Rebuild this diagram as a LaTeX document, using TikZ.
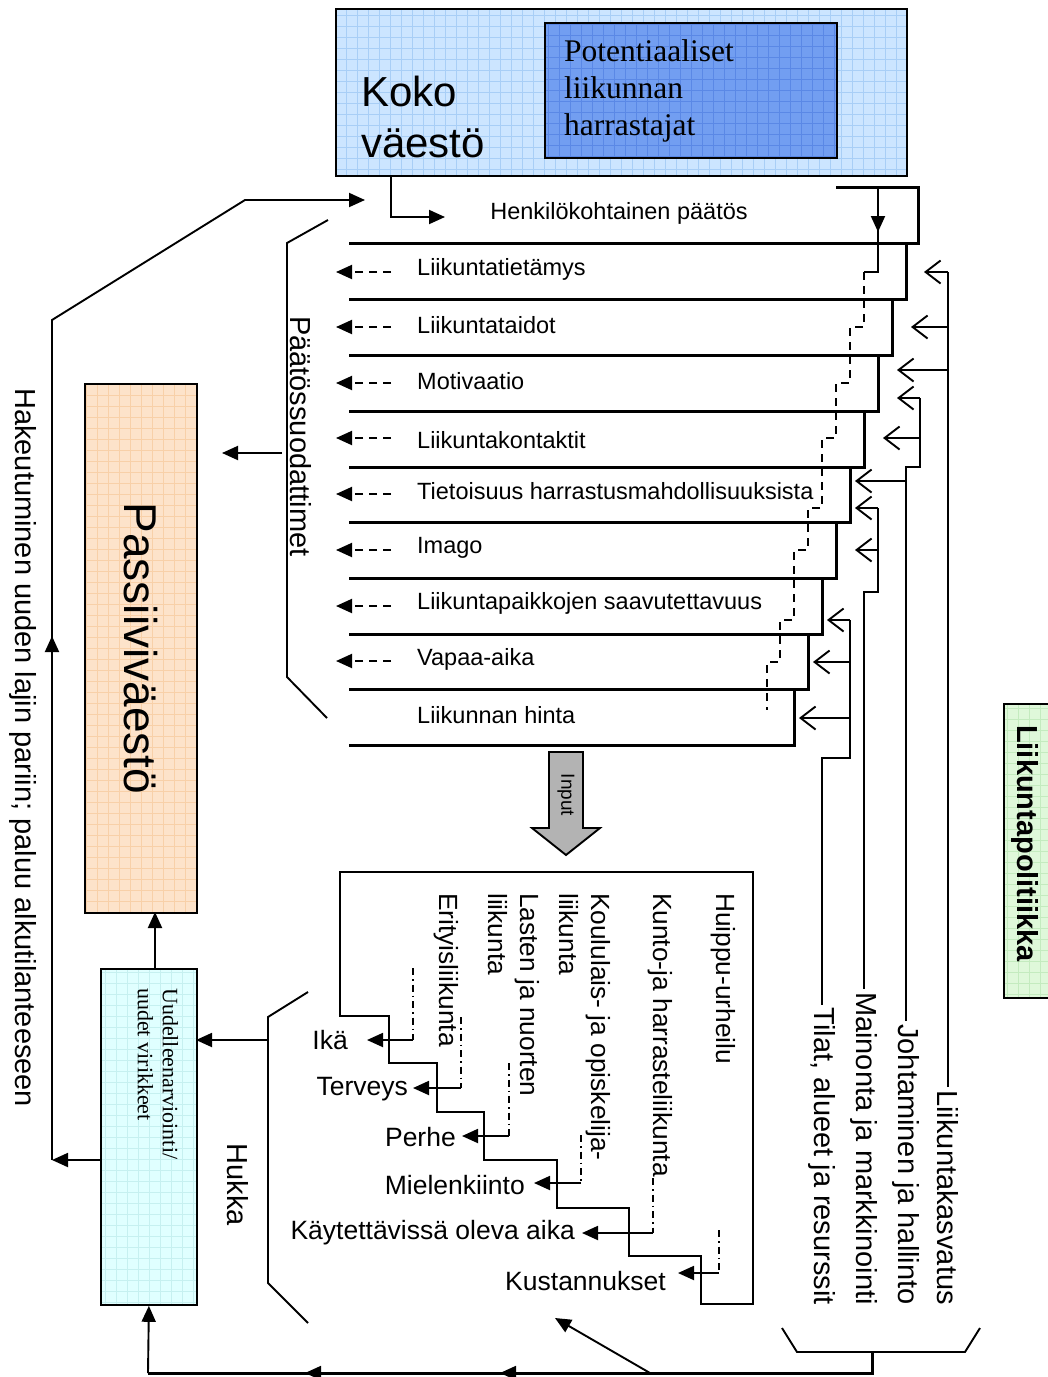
\documentclass[tikz,border=0pt]{standalone}
\usepackage{fontspec}
\setmainfont{Liberation Sans}
\newfontfamily\timesfont{Liberation Serif}
\usetikzlibrary{arrows.meta}
\definecolor{kokofill}{HTML}{CCE5FF}
\definecolor{kokogrid}{HTML}{A8CEF6}
\definecolor{potfill}{HTML}{729EF1}
\definecolor{potgrid}{HTML}{5A88E6}
\definecolor{pasfill}{HTML}{FDE3CA}
\definecolor{pasgrid}{HTML}{F8D0A8}
\definecolor{uudfill}{HTML}{E0FFFF}
\definecolor{uudgrid}{HTML}{C6F0F0}
\definecolor{polfill}{HTML}{DFF8DA}
\definecolor{polgrid}{HTML}{C4EBBF}
\definecolor{inputgray}{HTML}{B3B3B3}
\begin{document}
\begin{tikzpicture}[x=1pt,y=-1pt,
  gbox/.style 2 args={draw=black, line width=1.8pt, fill=#1, inner sep=0pt,
    path picture={\draw[#2, line width=0.6pt, step=11pt] (path picture bounding box.south west) grid (path picture bounding box.north east);}},
  rowline/.style={line width=3pt},
  ln/.style={line width=1.9pt},
  farr/.style={-{Triangle[length=16pt,width=14pt]}},
  oarr/.style={-{Straight Barb[length=15pt,width=23pt]}},
  dsh/.style={dash pattern=on 8pt off 6pt},
  ddot/.style={line width=1.5pt, dash pattern=on 7pt off 4pt on 1.5pt off 4pt},
  rowlbl/.style={anchor=west, inner sep=0pt, font=\fontsize{23.5}{28}\selectfont},
  botlbl/.style={anchor=east, inner sep=0pt, font=\fontsize{26.5}{31}\selectfont},
  cat/.style={anchor=west, rotate=-90, inner sep=0pt, align=left, font=\fontsize{26.3}{32}\selectfont},
  vtxt/.style={rotate=-90, inner sep=0pt, font=\fontsize{29}{34}\selectfont},
  pol/.style={anchor=east, rotate=-90, inner sep=3pt, font=\fontsize{29}{34}\selectfont},
]
\useasboundingbox (0,0) rectangle (1048,1377);

% ---- top boxes
\node[gbox={kokofill}{kokogrid}, minimum width=571pt, minimum height=167pt, anchor=north west] (koko) at (335,8) {};
\node[gbox={potfill}{potgrid}, minimum width=292pt, minimum height=135pt, anchor=north west] (pot) at (544,22) {};
\node[anchor=west, align=left, inner sep=0pt, font=\fontsize{42}{51}\selectfont] (kokotxt) at (361,117) {Koko\\väestö};
\node[anchor=west, align=left, inner sep=0pt, font=\timesfont\fontsize{31.5}{37}\selectfont] (pottxt) at (564,91) {Potentiaaliset\\liikunnan\\harrastajat};

\node[rowlbl, anchor=center] (henk) at (619,213) {Henkilökohtainen päätös};
\draw[ln,farr] ([xshift=56pt]koko.south west) |- (445,217);

% ---- filter rows
\draw[rowline] (349,243) -- (918,243) -- (918,187) -- (836,187);
\draw[rowline] (349,299) -- (906,299) -- (906,243);
\draw[rowline] (349,355) -- (892,355) -- (892,299);
\draw[rowline] (349,411) -- (878,411) -- (878,355);
\draw[rowline] (349,467) -- (864,467) -- (864,411);
\draw[rowline] (349,522) -- (850,522) -- (850,467);
\draw[rowline] (349,578) -- (836,578) -- (836,522);
\draw[rowline] (349,634) -- (822,634) -- (822,578);
\draw[rowline] (349,689) -- (808,689) -- (808,634);
\draw[rowline] (349,745) -- (794,745) -- (794,689);

\node[rowlbl] (r1) at (417,269) {Liikuntatietämys};
\node[rowlbl] (r2) at (417,325) {Liikuntataidot};
\node[rowlbl] (r3) at (417,381) {Motivaatio};
\node[rowlbl] (r4) at (417,440) {Liikuntakontaktit};
\node[rowlbl] (r5) at (417,491) {Tietoisuus harrastusmahdollisuuksista};
\node[rowlbl] (r6) at (417,548) {Imago};
\node[rowlbl] (r7) at (417,603) {Liikuntapaikkojen saavutettavuus};
\node[rowlbl] (r8) at (417,659) {Vapaa-aika};
\node[rowlbl] (r9) at (417,715) {Liikunnan hinta};

\foreach \yy in {272,327,383,438,494,550,606,661}
  \draw[ln,dsh,farr] (391,\yy) -- (336,\yy);

% staircase from the decision
\draw[ln,farr] (878,187) -- (878,232);
\draw[ln] (878,225) -- (878,272) -- (864,272);
\draw[ln,dsh] (864,272) -- (864,327) -- (850,327) -- (850,383) -- (836,383) -- (836,438) -- (822,438) -- (822,508) -- (808,508) -- (808,550) -- (794,550) -- (794,620) -- (780,620) -- (780,662) -- (767,662) -- (767,710);

% ---- policy lines
\node[pol] (kasv) at (948,1308) {Liikuntakasvatus};
\node[pol] (joht) at (906,1308) {Johtaminen ja hallinto};
\node[pol] (mark) at (864,1308) {Mainonta ja markkinointi};
\node[pol] (tilat) at (822,1308) {Tilat, alueet ja resurssit};

\draw[ln] (kasv.west) -- (948,272);
\draw[ln,oarr] (948,272) -- (924,272);
\draw[ln,oarr] (948,327) -- (911,327);
\draw[ln,oarr] (948,370) -- (897,370);
\draw[ln] (joht.west) -- (906,467) -- (920,467) -- (920,398);
\draw[ln,oarr] (920,398) -- (897,398);
\draw[ln,oarr] (920,438) -- (883,438);
\draw[ln,oarr] (906,481) -- (855,481);
\draw[ln] (mark.west) -- (864,592) -- (878,592) -- (878,508);
\draw[ln,oarr] (878,508) -- (855,508);
\draw[ln,oarr] (878,550) -- (855,550);
\draw[ln] (tilat.west) -- (822,758) -- (850,758) -- (850,620);
\draw[ln,oarr] (850,620) -- (827,620);
\draw[ln,oarr] (850,662) -- (813,662);
\draw[ln,oarr] (850,718) -- (799,718);

\node[gbox={polfill}{polgrid}, minimum width=50pt, minimum height=294pt, anchor=north west] (polbox) at (1003,703) {};
\node[vtxt, anchor=west, font=\bfseries\fontsize{29}{34}\selectfont] (poltxt) at (1025,725) {Liikuntapolitiikka};

% ---- decision filter bracket and passive
\draw[ln] (328,220) -- (287,243) -- (287,677) -- (327,718);
\node[vtxt, anchor=west] (paat) at (301,316) {Päätössuodattimet};
\node[gbox={pasfill}{pasgrid}, minimum width=112pt, minimum height=529pt, anchor=north west] (pas) at (84,383) {};
\node[vtxt, font=\fontsize{46}{50}\selectfont] (pastxt) at (pas.center) {Passiiviväestö};
\draw[ln,farr] (282,453) -- (222,453);

% ---- input arrow
\draw[ln, fill=inputgray] (549,752) -- (583,752) -- (583,828) -- (600,828) -- (566,855) -- (532,828) -- (549,828) -- cycle;
\node[rotate=-90, inner sep=0pt, font=\fontsize{19}{22}\selectfont] (inp) at (566,795) {Input};

% ---- bottom box
\draw[line width=2.3pt] (340,1016) -- (340,872) -- (753,872) -- (753,1304) -- (701,1304) -- (701,1256) -- (629,1256) -- (629,1208) -- (557,1208) -- (557,1160) -- (484,1160) -- (484,1112) -- (437,1112) -- (437,1063) -- (389,1063) -- (389,1016) -- cycle;
\node[cat] (c1) at (723,893) {Huippu-urheilu};
\node[cat] (c2) at (660,893) {Kunto-ja harrasteliikunta};
\node[cat] (c3) at (585,893) {Koululais- ja opiskelija-\\liikunta};
\node[cat] (c4) at (514,893) {Lasten ja nuorten\\liikunta};
\node[cat] (c5) at (446,893) {Erityisliikunta};

\node[botlbl] (l1) at (348,1040) {Ikä};
\node[botlbl] (l2) at (408,1089) {Terveys};
\node[botlbl] (l3) at (456,1137) {Perhe};
\node[botlbl] (l4) at (525,1185) {Mielenkiinto};
\node[botlbl] (l5) at (575,1233) {Käytettävissä oleva aika};
\node[botlbl] (l6) at (666,1281) {Kustannukset};

\draw[ddot] (413,968) -- (413,1040);  \draw[ln,farr] (413,1040) -- (367,1040);
\draw[ddot] (461,1017) -- (461,1088); \draw[ln,farr] (461,1088) -- (413,1088);
\draw[ddot] (509,1063) -- (509,1136); \draw[ln,farr] (509,1136) -- (462,1136);
\draw[ddot] (581,1135) -- (581,1183); \draw[ln,farr] (581,1183) -- (534,1183);
\draw[ddot] (653,1178) -- (653,1233); \draw[ln,farr] (653,1233) -- (582,1233);
\draw[ddot] (719,1230) -- (719,1273); \draw[ln,farr] (719,1273) -- (678,1273);

% ---- waste bracket and re-evaluation
\draw[ln] (308,992) -- (268,1017) -- (268,1283) -- (308,1323);
\node[vtxt] (hukka) at (238,1185) {Hukka};
\node[gbox={uudfill}{uudgrid}, minimum width=96pt, minimum height=336pt, anchor=north west] (uud) at (100,968) {};
\node[anchor=west, rotate=-90, align=left, inner sep=0pt, font=\timesfont\fontsize{22}{25}\selectfont] (uudtxt) at (158,988) {Uudelleenarviointi/\\uudet virikkeet};
\draw[ln,farr] (268,1040) -- (196,1040);
\draw[ln,farr] (155,968) -- (155,912);

% ---- loop back on the left
\node[vtxt, anchor=west] (hak) at (23,388) {Hakeutuminen uuden lajin pariin; paluu alkutilanteeseen};
\draw[ln,farr] (100,1160) -- (52,1160);
\draw[ln,farr] (52,1160) -- (52,636);
\draw[ln,farr] (52,645) -- (52,320) -- (245,200) -- (365,200);

% ---- bottom policy bracket and return line
\draw[ln] (782,1328) -- (797,1352) -- (965,1352) -- (980,1328);
\draw[rowline] (872,1352) -- (872,1373) -- (148,1373);
\draw[ln,farr] (148,1373) -- (uud.south);
\draw[ln,farr] (400,1373) -- (305,1373);
\draw[ln,farr] (600,1373) -- (500,1373);
\draw[ln,farr] (650,1373) -- (555,1318);
\end{tikzpicture}
\end{document}
